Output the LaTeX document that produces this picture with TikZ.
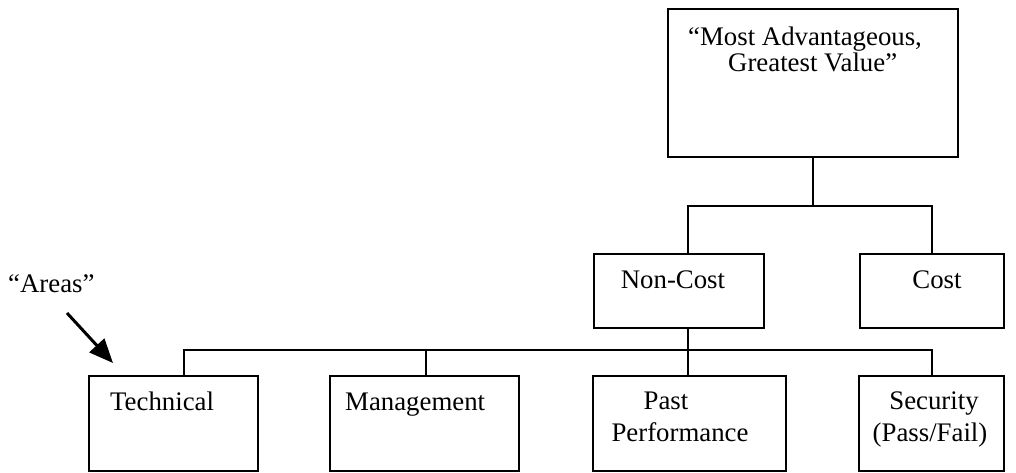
\documentclass[tikz,border=0pt]{standalone}
\usepackage{fontspec}
\setmainfont{Liberation Serif}
\usetikzlibrary{arrows.meta}
\begin{document}
\begin{tikzpicture}[x=1pt,y=-1pt,
  box/.style={draw, line width=2pt, inner sep=0pt, anchor=north west},
  conn/.style={line width=2pt},
  lbl/.style={inner sep=0pt, font=\fontsize{26.8}{31}\selectfont}]
\useasboundingbox (0,0) rectangle (1016,472);
% boxes
\node[box, minimum width=290pt, minimum height=148pt] (top) at (667,8) {};
\node[box, minimum width=170pt, minimum height=74pt] (noncost) at (593,253) {};
\node[box, minimum width=144pt, minimum height=74pt] (cost) at (859,253) {};
\node[box, minimum width=169pt, minimum height=95pt] (tech) at (88,375) {};
\node[box, minimum width=189pt, minimum height=95pt] (mgmt) at (329,375) {};
\node[box, minimum width=193pt, minimum height=95pt] (pp) at (592,375) {};
\node[box, minimum width=145pt, minimum height=95pt] (sec) at (858,375) {};
% texts
\node[lbl, anchor=base west] (t1) at (688,45) {“Most Advantageous,};
\node[lbl, anchor=base west] (t2) at (728,71) {Greatest Value”};
\node[lbl, anchor=base] (tnc) at (673,288) {Non-Cost};
\node[lbl, anchor=base] (tc) at (937,288) {Cost};
\node[lbl, anchor=base west] (tt) at (110,410) {Technical};
\node[lbl, anchor=base west] (tm) at (345,410) {Management};
\node[lbl, anchor=base] (tp1) at (666,409) {Past};
\node[lbl, anchor=base] (tp2) at (680,441) {Performance};
\node[lbl, anchor=base] (ts1) at (934,409) {Security};
\node[lbl, anchor=base] (ts2) at (930,441) {(Pass/Fail)};
\node[lbl, anchor=base west] (ta) at (8,292) {“Areas”};
% connectors
\draw[conn] (top.south) -- ++(0,48) coordinate (j1);
\draw[conn] (noncost.north west) ++(95,0) |- (j1) -| (cost.north);
\draw[conn] (noncost.south west) ++(95,0) coordinate (nb) -- (nb |- pp.north);
\coordinate (hb) at (nb |- 0,350);
\draw[conn] (tech.north west) ++(96,0) |- (hb) -| (sec.north);
\draw[conn] (mgmt.north west) ++(97,0) -- ++(0,-25);
% arrow
\coordinate (as) at (67,313);
\coordinate (at) at (113,363);
\draw[line width=3pt, -{Triangle[length=24pt,width=20pt]}] (as) -- (at);
\end{tikzpicture}
\end{document}
